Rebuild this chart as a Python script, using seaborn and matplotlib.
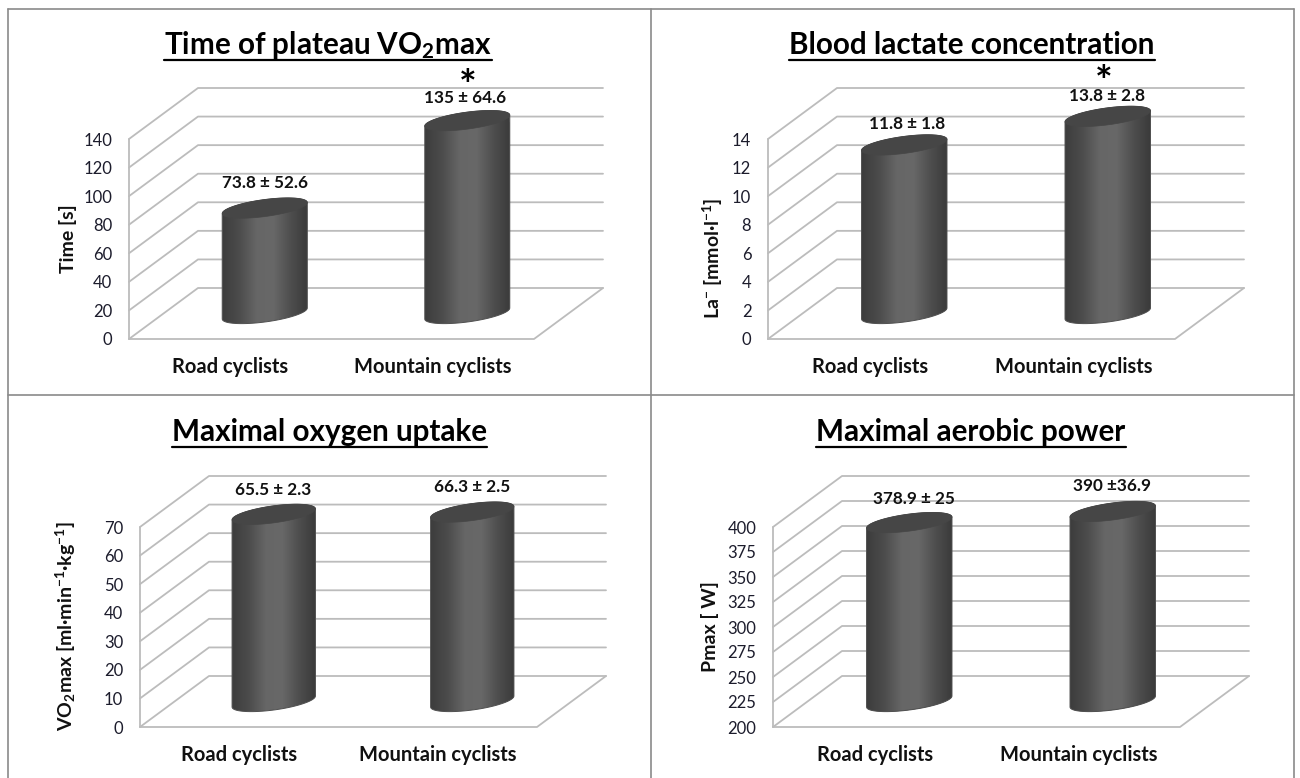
import matplotlib
matplotlib.use('Agg')
import matplotlib.pyplot as plt
import numpy as np
import pandas as pd
import seaborn as sns
from matplotlib.colors import LinearSegmentedColormap
from matplotlib.lines import Line2D
from matplotlib.patches import Polygon
from matplotlib.transforms import ScaledTranslation

groups = ['Road cyclists', 'Mountain cyclists']

plateau_time = [73.8, 135]
plateau_labels = ['73.8 ± 52.6', '135 ± 64.6']
plateau_ticks = [0, 20, 40, 60, 80, 100, 120, 140]

lactate = [11.8, 13.8]
lactate_labels = ['11.8 ± 1.8', '13.8 ± 2.8']
lactate_ticks = [0, 2, 4, 6, 8, 10, 12, 14]

vo2max = [65.5, 66.3]
vo2max_labels = ['65.5 ± 2.3', '66.3 ± 2.5']
vo2max_ticks = [0, 10, 20, 30, 40, 50, 60, 70]

pmax = [378.9, 390]
pmax_labels = ['378.9 ± 25', '390 ±36.9']
pmax_ticks = [200, 225, 250, 275, 300, 325, 350, 375, 400]

W, H = 1300, 778
GRID = '#bcbcbc'
BORDER = '#8a8a8a'
TEXT = '#111111'

body_cmap = LinearSegmentedColormap.from_list(
    'cyl', ['#3d3d3d', '#4c4c4c', '#666666', '#686868', '#4e4e4e', '#3a3a3a'])

sns.set_theme(style='white')
plt.rcParams['font.family'] = ['Lato', 'DejaVu Sans']
plt.rcParams['mathtext.default'] = 'regular'

fig = plt.figure(figsize=(W / 100, H / 100), dpi=100)


def fx(x):
    return x / W


def fy(y):
    return 1 - y / H


def cylinder_panel(values, ticks, title, title_xy, ylabel, ylabel_xy, labels, label_xy, stars,
                   left, right, y0, ytop, back_dx=69, back_dy=51):
    ax = fig.add_axes([fx(left), fy(y0), (right - left) / W, (y0 - ytop) / H])
    df = pd.DataFrame({'group': groups, 'value': values})
    sns.barplot(data=df, x='group', y='value', ax=ax, color='#555555', width=0.42, saturation=1)
    ax.set_xlim(-0.5, 1.5)
    ax.set_ylim(ticks[0], ticks[-1])
    ax.set_yticks(ticks)
    ax.set_xlabel('')
    sns.despine(ax=ax, left=True, bottom=True)
    ax.patch.set_alpha(0)

    # pixel sizes turned into data units, so that everything hangs on the axes scales
    ux = 2 / (right - left)
    uy = (ticks[-1] - ticks[0]) / (y0 - ytop)
    x0, x1 = -0.5, 1.5
    bx, by = back_dx * ux, back_dy * uy

    for v in ticks:
        ax.plot([x0, x0 + bx, x1 + bx], [v, v + by, v + by], color=GRID, lw=1.3, clip_on=False, zorder=1)
    ax.plot([x0, x0], [ticks[0], ticks[-1]], color=GRID, lw=1.3, clip_on=False, zorder=1)
    ax.plot([x0, x1, x1 + bx], [ticks[0], ticks[0], ticks[0] + by], color=GRID, lw=1.3, clip_on=False, zorder=1)

    # the bars stand half way into the depth of the floor
    shift = ax.transData + ScaledTranslation(back_dx / 2 / 100, back_dy / 2 / 100, fig.dpi_scale_trans)
    t = np.linspace(0, 2 * np.pi, 90)
    b_px, k_px = 8.5, 5.5
    for bar in list(ax.patches):
        cx = bar.get_x() + bar.get_width() / 2
        a = bar.get_width() / 2
        top = bar.get_height()
        low = ticks[0]

        # lower half of a tilted ellipse at the foot, upper half at the top
        lower = np.linspace(np.pi, 2 * np.pi, 40)
        upper = np.linspace(0, np.pi, 40)
        ex_l = cx + a * np.cos(lower)
        ey_l = low + (b_px * np.sin(lower) + k_px * np.cos(lower)) * uy
        ex_u = cx + a * np.cos(upper)
        ey_u = top + (b_px * np.sin(upper) + k_px * np.cos(upper)) * uy
        outline = Polygon(np.column_stack([np.r_[ex_l, ex_u], np.r_[ey_l, ey_u]]), closed=True,
                          fc='none', ec='#505050', lw=0.7, transform=shift, clip_on=False, zorder=4)
        ax.add_patch(outline)

        bar.set_transform(shift)
        bar.set_clip_box(fig.bbox)
        bar.set_clip_path(outline)
        bar.set_zorder(2)

        im = ax.imshow(np.linspace(0, 1, 128).reshape(1, -1), cmap=body_cmap, aspect='auto',
                       extent=[cx - a, cx + a, low - 14 * uy, top + 14 * uy], zorder=3, transform=shift)
        # images stay inside the axes box unless they get another clip box
        im.set_clip_box(fig.bbox)
        im.set_clip_path(outline)

        cap = Polygon(np.column_stack([cx + a * np.cos(t), top + (b_px * np.sin(t) + k_px * np.cos(t)) * uy]),
                      closed=True, fc='#464646', ec='#464646', lw=0.5, transform=shift, clip_on=False, zorder=5)
        ax.add_patch(cap)

    ax.set_xlim(-0.5, 1.5)
    ax.set_ylim(ticks[0], ticks[-1])
    ax.tick_params(axis='y', length=0, pad=12, labelsize=12, labelcolor='#1c1c2c')
    ax.tick_params(axis='x', length=0, pad=13, labelsize=14.5, labelcolor=TEXT)
    for lab in ax.get_xticklabels():
        lab.set_fontweight('bold')

    ax.set_ylabel(ylabel, fontsize=14, fontweight='bold', color=TEXT, va='center')
    ax.yaxis.set_label_coords(fx(ylabel_xy[0]), fy(ylabel_xy[1]), transform=fig.transFigure)

    ttl = fig.text(fx(title_xy[0]), fy(title_xy[1]), title, ha='center', va='center', fontsize=21.3,
                   fontweight='bold', color='#000000')
    box = ttl.get_window_extent(fig.canvas.get_renderer())
    line_y = title_xy[1] + 15
    fig.add_artist(Line2D([box.x0 / W, box.x1 / W], [fy(line_y), fy(line_y)], color='black', lw=1.6))

    for text, (lx, ly) in zip(labels, label_xy):
        fig.text(fx(lx), fy(ly), text, ha='center', va='center', fontsize=12.3, fontweight='bold', color=TEXT)
    for sx, sy in stars:
        fig.text(fx(sx), fy(sy), '*', ha='center', va='center', fontsize=30, fontweight='bold', color='#000000')


cylinder_panel(plateau_time, plateau_ticks, 'Time of plateau VO$_{2}$max', (328, 45),
               'Time [s]', (68, 239), plateau_labels, [(265, 183), (465, 98)], [(468, 88)],
               129, 534, 339, 139)
cylinder_panel(lactate, lactate_ticks, 'Blood lactate concentration', (972, 45),
               'La$^{-}$ [mmol·l$^{-1}$]', (713, 258), lactate_labels, [(907, 124), (1107, 96)], [(1104, 84)],
               768, 1175, 339, 139)
cylinder_panel(vo2max, vo2max_ticks, 'Maximal oxygen uptake', (329, 432),
               'VO$_{2}$max [ml·min$^{-1}$·kg$^{-1}$]', (66, 626), vo2max_labels, [(273, 490), (472, 487)], [],
               140, 537, 727, 527)
cylinder_panel(pmax, pmax_ticks, 'Maximal aerobic power', (971, 432),
               'Pmax [ W]', (710, 627), pmax_labels, [(914, 499), (1112, 486)], [],
               773, 1180, 727, 527)

# panel frames
for xs, ys in [([8, 1294], [9, 9]), ([8, 8], [9, 778]), ([8, 1294], [395, 395]),
               ([651, 651], [9, 778]), ([1294, 1294], [9, 778])]:
    fig.add_artist(Line2D([fx(x) for x in xs], [fy(y) for y in ys], color=BORDER, lw=1.2))

plt.savefig('out.png', dpi=100)
